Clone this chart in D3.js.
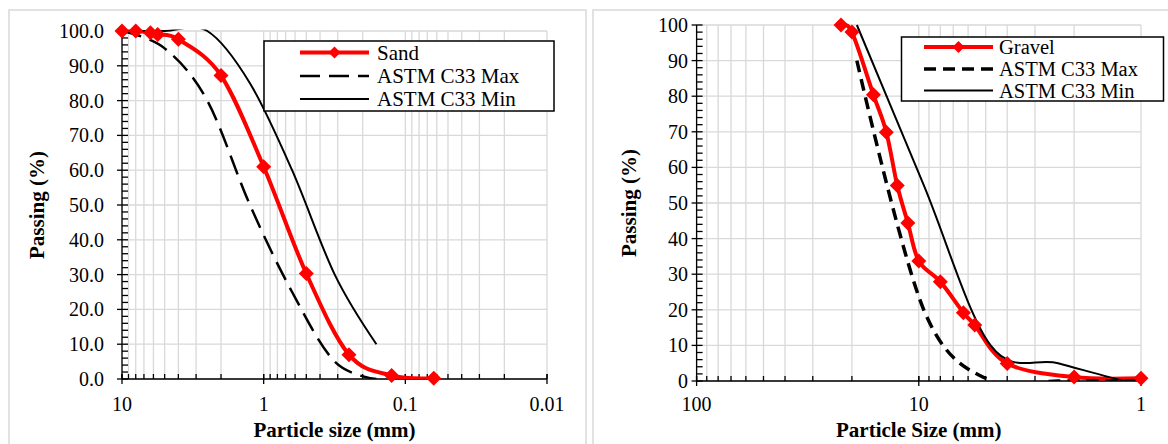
<!DOCTYPE html>
<html>
<head>
<meta charset="utf-8">
<script src="https://cdn.jsdelivr.net/npm/d3@7"></script>
<style>
  body { margin: 0; background: #fff; }
  svg { display: block; font-family: "Liberation Serif", "Times New Roman", serif; }
</style>
</head>
<body>
<svg id="chart" width="1168" height="444"></svg>
<script>
// SAND PANEL DATA (sizes in mm, passing in %)
const sandSizes = [10, 8, 6.3, 5.6, 4, 2, 1, 0.5, 0.25, 0.125, 0.063];
const sandPassing = [100, 100, 99.5, 99, 97.6, 87.2, 61, 30.3, 7, 1, 0.2];
const sandLimitSizes = [10, 5, 2.5, 1.25, 0.63, 0.315, 0.16];
const sandMax = [100, 95, 80, 50, 25, 5, 0];
const sandMin = [100, 100, 100, 85, 60, 30, 10];
const sandXTicks = [10, 1, 0.1, 0.01];
const sandYTicks = [0, 10, 20, 30, 40, 50, 60, 70, 80, 90, 100];

// GRAVEL PANEL DATA
const gravelSizes = [22.4, 20, 16, 14, 12.5, 11.2, 10, 8, 6.3, 5.6, 4, 2, 1];
const gravelPassing = [100, 98, 80.4, 69.9, 54.9, 44.4, 33.7, 27.9, 19.2, 15.7, 4.9, 1.1, 0.8];
const gravelMaxSizes = [19, 9.5, 4.75, 2.36, 1];
const gravelMax = [90, 20, 0, 0, 0];
const gravelMinSizes = [19, 9.5, 4.75, 2.36, 1.18, 1];
const gravelMin = [100, 55, 10, 5, 0, 0];
const gravelXTicks = [100, 10, 1];
const gravelYTicks = [0, 10, 20, 30, 40, 50, 60, 70, 80, 90, 100];

const svg = d3.select("#chart");
const GRID = "#d9d9d9";

// HELPERS
function zip(xs, ys) {
  return xs.map((v, i) => [v, ys[i]]);
}

function diamond(s) {
  return `M0,${-s}L${s},0L0,${s}L${-s},0Z`;
}

function drawPanel(cfg) {
  const x = d3.scaleLog().domain(cfg.xDomain).range(cfg.xRange);
  const y = d3.scaleLinear().domain([0, 100]).range(cfg.yRange);
  const [x0, x1] = cfg.xRange;
  const [yb, yt] = cfg.yRange;

  // panel border
  svg.append("rect")
      .attr("x", cfg.frame[0]).attr("y", cfg.frame[1])
      .attr("width", cfg.frame[2]).attr("height", cfg.frame[3])
      .attr("fill", "none").attr("stroke", GRID).attr("stroke-width", 1.5);

  // gridlines
  const logTicks = x.ticks();
  const grid = svg.append("g").attr("stroke", GRID).attr("stroke-width", 1.3);
  grid.selectAll(".v").data(logTicks).join("line")
      .attr("x1", d => x(d)).attr("x2", d => x(d))
      .attr("y1", yt).attr("y2", yb);
  grid.selectAll(".h").data(cfg.yTicks).join("line")
      .attr("x1", x0).attr("x2", x1)
      .attr("y1", d => y(d)).attr("y2", d => y(d));

  // axes
  const ax = svg.append("g").attr("stroke", "#000").attr("stroke-width", 1.3);
  ax.append("line").attr("x1", x0).attr("x2", x0).attr("y1", yt).attr("y2", yb);
  ax.append("line").attr("x1", x0).attr("x2", x1).attr("y1", yb).attr("y2", yb);
  ax.selectAll(".ym").data(cfg.yTicks).join("line")
      .attr("x1", x0 - 5).attr("x2", x0 + 6)
      .attr("y1", d => y(d)).attr("y2", d => y(d));
  ax.selectAll(".yn").data(d3.range(0, 100, 2).filter(d => d % 10 !== 0)).join("line")
      .attr("x1", x0).attr("x2", x0 + 6)
      .attr("y1", d => y(d)).attr("y2", d => y(d));
  ax.selectAll(".xn").data(logTicks).join("line")
      .attr("x1", d => x(d)).attr("x2", d => x(d))
      .attr("y1", yb - 5).attr("y2", yb);
  ax.selectAll(".xm").data(cfg.xTicks).join("line")
      .attr("x1", d => x(d)).attr("x2", d => x(d))
      .attr("y1", yb - 5).attr("y2", yb + 5);

  // tick labels
  svg.append("g").attr("font-size", 20).attr("text-anchor", "end")
    .selectAll("text").data(cfg.yTicks).join("text")
      .attr("x", cfg.yLabelX).attr("y", d => y(d)).attr("dy", "0.35em")
      .text(cfg.yFormat);
  svg.append("g").attr("font-size", 20).attr("text-anchor", "middle")
    .selectAll("text").data(cfg.xTicks).join("text")
      .attr("x", d => x(d)).attr("y", 411)
      .text(d => String(d));

  // axis titles
  svg.append("text")
      .attr("x", (x0 + x1) / 2).attr("y", 437)
      .attr("text-anchor", "middle").attr("font-size", 21).attr("font-weight", "bold")
      .text(cfg.xTitle);
  svg.append("text")
      .attr("transform", `translate(${cfg.yTitleX},${(yt + yb) / 2}) rotate(-90)`)
      .attr("text-anchor", "middle").attr("dy", "0.35em")
      .attr("font-size", 21).attr("font-weight", "bold")
      .text("Passing (%)");

  // clipped plot area
  const clipId = "clip-" + cfg.id;
  svg.append("clipPath").attr("id", clipId)
    .append("rect").attr("x", x0).attr("y", yt - 1.5).attr("width", x1 - x0).attr("height", yb - yt + 1.5);

  const line = d3.line()
      .x(d => x(d[0])).y(d => y(d[1]))
      .curve(d3.curveCardinal.tension(0));

  const plot = svg.append("g").attr("clip-path", `url(#${clipId})`);
  plot.append("path").datum(cfg.main)
      .attr("fill", "none").attr("stroke", "#ff0000").attr("stroke-width", 4)
      .attr("d", line);

  // markers (unclipped)
  svg.append("g").attr("fill", "#ff0000")
    .selectAll("path").data(cfg.main).join("path")
      .attr("transform", d => `translate(${x(d[0])},${y(d[1])})`)
      .attr("d", diamond(7.5));

  plot.append("path").datum(cfg.max)
      .attr("fill", "none").attr("stroke", "#000").attr("stroke-width", cfg.dashWidth)
      .attr("stroke-dasharray", cfg.dash)
      .attr("d", line);
  plot.append("path").datum(cfg.min)
      .attr("fill", "none").attr("stroke", "#000").attr("stroke-width", 2)
      .attr("d", line);

  // legend
  const L = cfg.legend;
  const lg = svg.append("g");
  lg.append("rect")
      .attr("x", L.x).attr("y", L.y).attr("width", L.w).attr("height", L.h)
      .attr("fill", "#fff").attr("stroke", "#000").attr("stroke-width", 1.5);
  const items = [
    { name: cfg.mainName, stroke: "#ff0000", width: 4, dash: null, marker: true },
    { name: "ASTM C33 Max", stroke: "#000", width: cfg.dashWidth, dash: cfg.dash, marker: false },
    { name: "ASTM C33 Min", stroke: "#000", width: 2, dash: null, marker: false }
  ];
  items.forEach((it, i) => {
    const ry = L.rows[i];
    lg.append("line")
        .attr("x1", L.lx1).attr("x2", L.lx2).attr("y1", ry).attr("y2", ry)
        .attr("stroke", it.stroke).attr("stroke-width", it.width)
        .attr("stroke-dasharray", it.dash);
    if (it.marker) {
      lg.append("path")
          .attr("transform", `translate(${(L.lx1 + L.lx2) / 2},${ry})`)
          .attr("d", diamond(6)).attr("fill", "#ff0000");
    }
    lg.append("text")
        .attr("x", L.tx).attr("y", ry).attr("dy", "0.35em")
        .attr("font-size", L.fs)
        .text(it.name);
  });
}

drawPanel({
  id: "sand",
  frame: [9, 10, 577, 450],
  xDomain: [10, 0.01], xRange: [122, 547],
  yRange: [379, 31],
  xTicks: sandXTicks, yTicks: sandYTicks,
  yFormat: d3.format(".1f"), yLabelX: 104, yTitleX: 37,
  xTitle: "Particle size (mm)",
  main: zip(sandSizes, sandPassing),
  max: zip(sandLimitSizes, sandMax),
  min: zip(sandLimitSizes, sandMin),
  mainName: "Sand",
  dash: "20,9", dashWidth: 2.5,
  legend: { x: 264, y: 41, w: 290, h: 70, rows: [52.5, 76, 99], lx1: 300, lx2: 369, tx: 377, fs: 21 }
});

drawPanel({
  id: "gravel",
  frame: [593, 10, 600, 450],
  xDomain: [100, 1], xRange: [696.6, 1141],
  yRange: [381, 25],
  xTicks: gravelXTicks, yTicks: gravelYTicks,
  yFormat: d3.format("d"), yLabelX: 688, yTitleX: 629,
  xTitle: "Particle Size (mm)",
  main: zip(gravelSizes, gravelPassing),
  max: zip(gravelMaxSizes, gravelMax),
  min: zip(gravelMinSizes, gravelMin),
  mainName: "Gravel",
  dash: "12,7", dashWidth: 3.5,
  legend: { x: 901.5, y: 37, w: 262, h: 64, rows: [47, 69, 90.5], lx1: 924, lx2: 993, tx: 999, fs: 20.5 }
});
</script>
</body>
</html>
